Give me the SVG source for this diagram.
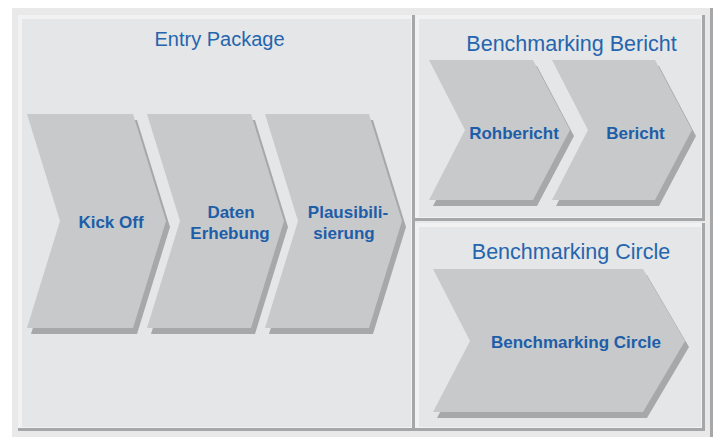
<svg xmlns="http://www.w3.org/2000/svg" width="719" height="437" viewBox="0 0 719 437">
<style>
.title{font-family:"Liberation Sans",Arial,sans-serif;fill:#2465ae;text-anchor:middle}
.lbl{font-family:"Liberation Sans",Arial,sans-serif;font-weight:bold;font-size:17px;fill:#1d5ea8;text-anchor:middle}
.chev{fill:#c8c9cb}
.shad{fill:#a7a8aa}
.pin{fill:#e5e6e8}
.plight{fill:#f2f2f3}
.pdark{fill:#a6a7a9}
</style>
<rect x="0" y="0" width="719" height="437" fill="#ffffff"/>
<g id="frame">
<rect x="12" y="8" width="701" height="429" fill="#e9e9ea"/>
<rect x="710" y="8" width="3" height="429" fill="#a6a7a9"/>
</g>
<g id="panel-entry">
<rect class="plight" x="18" y="15" width="397" height="416"/>
<path class="pdark" d="M412 15 H415 V431 H18 V428 H412 Z"/>
<rect class="pin" x="22" y="19" width="389" height="408"/>
<text class="title" x="219.5" y="46" font-size="20">Entry Package</text>
</g>
<g id="panel-bericht">
<rect class="plight" x="415" y="15" width="290" height="206"/>
<path class="pdark" d="M702 15 H705 V221 H415 V218 H702 Z"/>
<rect class="pin" x="419" y="19" width="282" height="198"/>
<text class="title" x="571.5" y="51" font-size="21.5">Benchmarking Bericht</text>
</g>
<g id="panel-circle">
<rect class="plight" x="415" y="223" width="290" height="208"/>
<path class="pdark" d="M702 223 H705 V431 H415 V428 H702 Z"/>
<rect class="pin" x="419" y="227" width="282" height="200"/>
<text class="title" x="571" y="259" font-size="21.5">Benchmarking Circle</text>
</g>
<g id="node-kickoff">
<polygon class="shad" points="31,120 137,120 170,227 137,334 31,334 64,227"/>
<polygon class="chev" points="27,114 133,114 166,221 133,328 27,328 60,221"/>
<text class="lbl" x="111" y="228">Kick Off</text>
</g>
<g id="node-daten">
<polygon class="shad" points="151,120 255,120 288,227 255,334 151,334 184,227"/>
<polygon class="chev" points="147,114 251,114 284,221 251,328 147,328 180,221"/>
<text class="lbl" x="231" y="218">Daten</text>
<text class="lbl" x="230" y="239">Erhebung</text>
</g>
<g id="node-plausi">
<polygon class="shad" points="269,120 373,120 406,227 373,334 269,334 302,227"/>
<polygon class="chev" points="265,114 369,114 402,221 369,328 265,328 298,221"/>
<text class="lbl" x="348" y="218">Plausibili-</text>
<text class="lbl" x="344" y="239">sierung</text>
</g>
<g id="node-rohbericht">
<polygon class="shad" points="433,66 537,66 574,136 537,206 433,206 469,136"/>
<polygon class="chev" points="429,60 533,60 570,130 533,200 429,200 465,130"/>
<text class="lbl" x="514" y="139">Rohbericht</text>
</g>
<g id="node-bericht">
<polygon class="shad" points="556,66 659,66 696,136 659,206 556,206 592,136"/>
<polygon class="chev" points="552,60 655,60 692,130 655,200 552,200 588,130"/>
<text class="lbl" x="635.5" y="139">Bericht</text>
</g>
<g id="node-circle">
<polygon class="shad" points="437,275 647,275 689,347 647,418 437,418 474,347"/>
<polygon class="chev" points="433,269 643,269 685,341 643,412 433,412 470,341"/>
<text class="lbl" x="576" y="348">Benchmarking Circle</text>
</g>
<g id="connectors"></g>
</svg>
